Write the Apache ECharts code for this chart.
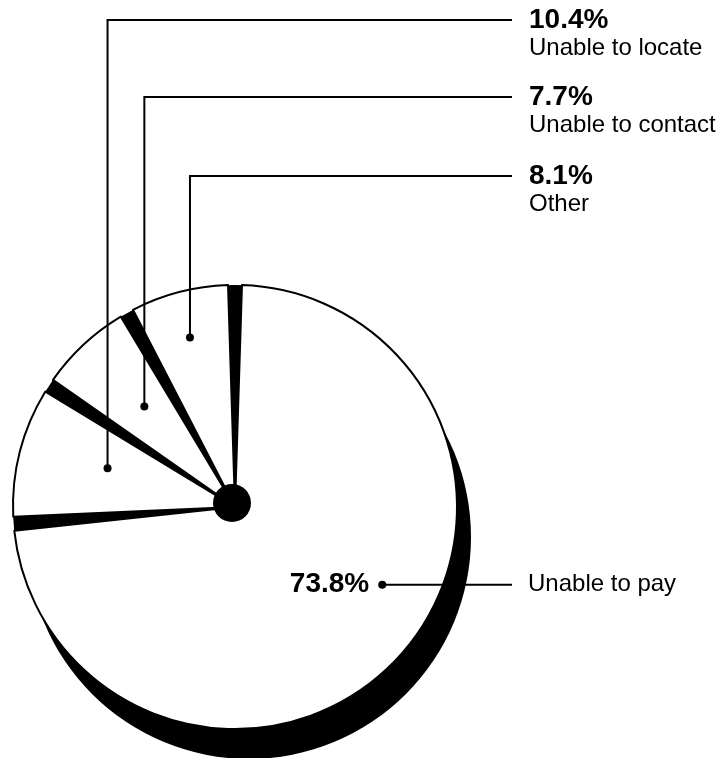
<!DOCTYPE html>
<html>
<head>
<meta charset="utf-8" />
<title>Unable to pay</title>
<script src="https://cdn.jsdelivr.net/npm/echarts@6/dist/echarts.min.js"></script>
<style>body{margin:0;background:#fff}</style>
</head>
<body>
<div id="main" style="width:724px;height:758px;"></div>
<script>
var reasons = ['Unable to pay', 'Unable to locate', 'Unable to contact', 'Other'];
var shares = [73.8, 10.4, 7.7, 8.1];

// callouts: where the dot sits (fraction of radius, nudge off the slice middle in deg)
// and the height of the horizontal leader for each slice
var dotRadius = [0.75, 0.6, 0.61, 0.79];
var dotNudge = [-15, 2.5, 1, -0.3];
var leaderY = [null, 20, 97, 176];

var cx = 235, cy = 507, R = 222;
var lineEnd = 512, textX = 529;
var font = 'Liberation Sans';

function dotAt(i) {
	var total = 0, start = 0;
	for (var k = 0; k < shares.length; k++) total += shares[k];
	for (var k = 0; k < i; k++) start += shares[k] / total * 360;
	var a = (start + shares[i] / total * 180 + dotNudge[i]) * Math.PI / 180;
	return [cx + dotRadius[i] * R * Math.sin(a), cy - dotRadius[i] * R * Math.cos(a)];
}

var dots = reasons.map(function (n, i) { return dotAt(i); });

// leader lines (drawn above the pie) and dots
var leaders = dots.map(function (d, i) {
	var pts = i === 0
		? [d, [lineEnd, d[1]]]
		: [d, [d[0], leaderY[i]], [lineEnd, leaderY[i]]];
	return { type: 'polyline', shape: { points: pts }, style: { stroke: '#000', lineWidth: 2, fill: null }, z: 10 };
});
var marks = dots.map(function (d) {
	return { type: 'circle', shape: { cx: d[0], cy: d[1], r: 4 }, style: { fill: '#000' }, z: 11 };
});

var myChart = echarts.init(document.getElementById('main'));

var option = {
	backgroundColor: '#fff',
	animation: false,
	graphic: leaders.concat(marks).concat([{
		type: 'text',
		x: 528, y: dots[0][1],
		style: { text: reasons[0], fill: '#000', font: '24px ' + font, verticalAlign: 'middle', align: 'left' },
		z: 10
	}]),
	series: [
		{
			// drop shadow under the whole pie
			type: 'pie', center: [cx + 14, cy + 30], radius: R, silent: true,
			label: { show: false }, labelLine: { show: false },
			itemStyle: { color: '#000' },
			data: [{ value: 1, name: 'shadow' }]
		},
		{
			// black base that shows between the slices
			type: 'pie', center: [cx, cy], radius: R, silent: true,
			label: { show: false }, labelLine: { show: false },
			itemStyle: { color: '#000' },
			data: [{ value: 1, name: 'base' }]
		},
		{
			type: 'pie',
			center: [cx, cy],
			radius: R,
			startAngle: 90,
			clockwise: true,
			padAngle: 3.6,
			silent: true,
			avoidLabelOverlap: false,
			itemStyle: { color: '#fff', borderColor: '#000', borderWidth: 2 },
			label: {
				show: true,
				position: 'outside',
				color: '#000',
				fontFamily: font,
				formatter: function (p) {
					if (p.dataIndex === 0) return '{p|' + p.value.toFixed(1) + '%}';
					return '{p|' + p.value.toFixed(1) + '%}\n{n|' + p.name + '}';
				},
				rich: {
					p: { fontSize: 28, fontWeight: 'bold', lineHeight: 28, fontFamily: font, color: '#000' },
					n: { fontSize: 24, lineHeight: 29, fontFamily: font, color: '#000' }
				}
			},
			labelLine: { show: false },
			labelLayout: function (params) {
				var i = params.dataIndex;
				var d = dots[i];
				if (i === 0) {
					return { x: d[0] - 13, y: d[1], align: 'right', verticalAlign: 'middle' };
				}
				return { x: textX, y: leaderY[i] - 14, align: 'left', verticalAlign: 'top' };
			},
			data: reasons.map(function (n, i) { return { name: n, value: shares[i] }; })
		},
		{
			// dark hub where the slice gaps meet
			type: 'pie', center: [cx - 3, cy - 4], radius: 19, silent: true,
			label: { show: false }, labelLine: { show: false },
			itemStyle: { color: '#000' },
			data: [{ value: 1, name: 'hub' }]
		}
	]
};

myChart.setOption(option);
</script>
</body>
</html>
